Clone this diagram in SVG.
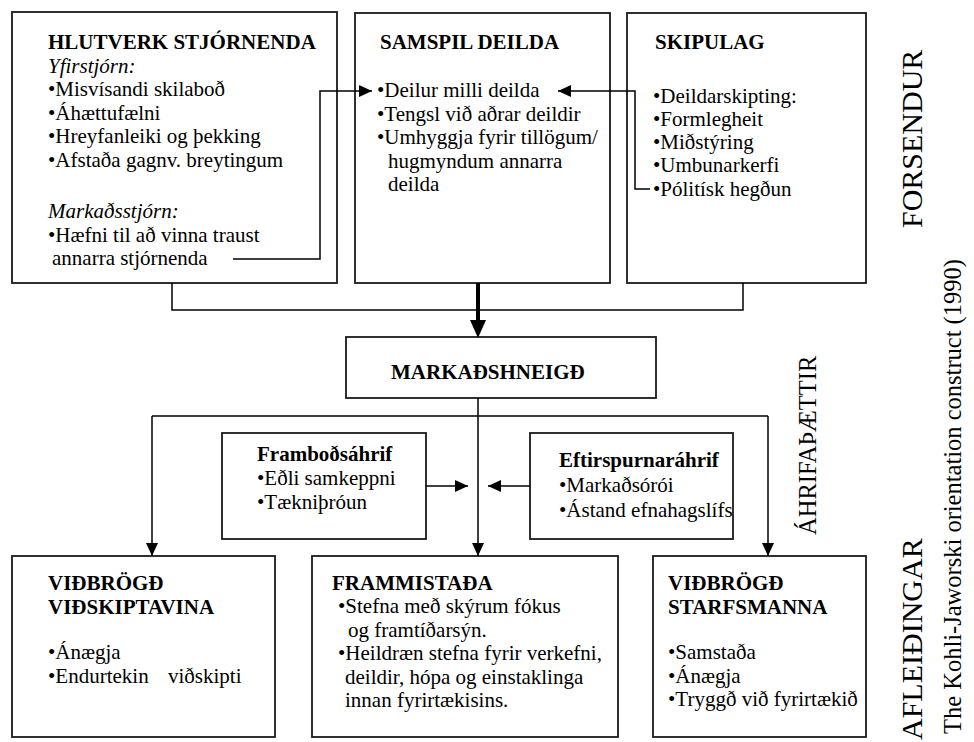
<svg xmlns="http://www.w3.org/2000/svg" width="974" height="742" viewBox="0 0 974 742">
<defs>
<style>
.box{fill:#fff;stroke:#1a1a1a;stroke-width:1.8}
.t{font-family:'Liberation Serif','Times New Roman',serif;font-size:21px;fill:#000}
.b{font-weight:bold}
.i{font-style:italic}
.c{fill:none;stroke:#000;stroke-width:1.5}
.thick{fill:none;stroke:#000;stroke-width:4}
.big{font-size:30px}
.mid{font-size:24.5px}
</style>
<marker id="ah" markerUnits="userSpaceOnUse" viewBox="0 0 13 12" refX="13" refY="6" markerWidth="13" markerHeight="12" orient="auto"><path d="M0,0 L13,6 L0,12 z" fill="#000"/></marker>
<marker id="ahb" markerUnits="userSpaceOnUse" viewBox="0 0 18 16" refX="0" refY="8" markerWidth="18" markerHeight="16" orient="auto"><path d="M0,0 L18,8 L0,16 z" fill="#000"/></marker>
</defs>
<rect width="974" height="742" fill="#fff"/>

<g id="hlutverk">
<rect class="box" x="12" y="12" width="325" height="271"/>
<text class="t b" x="48" y="49">HLUTVERK STJÓRNENDA</text>
<text class="t i" x="48" y="72.5">Yfirstjórn:</text>
<text class="t" x="48" y="96">•Misvísandi skilaboð</text>
<text class="t" x="48" y="119.5">•Áhættufælni</text>
<text class="t" x="48" y="143">•Hreyfanleiki og þekking</text>
<text class="t" x="48" y="166.5">•Afstaða gagnv. breytingum</text>
<text class="t i" x="48" y="218">Markaðsstjórn:</text>
<text class="t" x="48" y="242">•Hæfni til að vinna traust</text>
<text class="t" x="52" y="265">annarra stjórnenda</text>
</g>

<g id="samspil">
<rect class="box" x="355" y="13" width="255" height="270"/>
<text class="t b" x="380" y="49">SAMSPIL DEILDA</text>
<text class="t" x="377" y="97">•Deilur milli deilda</text>
<text class="t" x="377" y="120.5">•Tengsl við aðrar deildir</text>
<text class="t" x="377" y="144">•Umhyggja fyrir tillögum/</text>
<text class="t" x="388" y="167.5">hugmyndum annarra</text>
<text class="t" x="388" y="191">deilda</text>
</g>

<g id="skipulag">
<rect class="box" x="627" y="13" width="239" height="270"/>
<text class="t b" x="655" y="49">SKIPULAG</text>
<text class="t" x="653" y="102.5">•Deildarskipting:</text>
<text class="t" x="653" y="125.5">•Formlegheit</text>
<text class="t" x="653" y="149">•Miðstýring</text>
<text class="t" x="653" y="172">•Umbunarkerfi</text>
<text class="t" x="653" y="195.5">•Pólitísk hegðun</text>
</g>

<g id="markadshneigd">
<rect class="box" x="346" y="337" width="310" height="61"/>
<text class="t b" x="391" y="379">MARKAÐSHNEIGÐ</text>
</g>

<g id="frambodsahrif">
<rect class="box" x="222" y="433" width="204" height="106"/>
<text class="t b" x="257" y="461">Framboðsáhrif</text>
<text class="t" x="257" y="485">•Eðli samkeppni</text>
<text class="t" x="257" y="509">•Tækniþróun</text>
</g>

<g id="eftirspurnarahrif">
<rect class="box" x="530" y="433" width="203" height="106"/>
<text class="t b" x="559" y="467">Eftirspurnaráhrif</text>
<text class="t" x="559" y="492">•Markaðsórói</text>
<text class="t" x="559" y="517">•Ástand efnahagslífs</text>
</g>

<g id="vidskiptavina">
<rect class="box" x="12" y="556" width="263" height="181"/>
<text class="t b" x="48" y="590">VIÐBRÖGÐ</text>
<text class="t b" x="48" y="613.5">VIÐSKIPTAVINA</text>
<text class="t" x="48" y="659">•Ánægja</text>
<text class="t" x="48" y="682.5">•Endurtekin</text>
<text class="t" x="168" y="682.5">viðskipti</text>
</g>

<g id="frammistada">
<rect class="box" x="312" y="556" width="306" height="181"/>
<text class="t b" x="332" y="590">FRAMMISTAÐA</text>
<text class="t" x="338" y="613">•Stefna með skýrum fókus</text>
<text class="t" x="348" y="636.5">og framtíðarsýn.</text>
<text class="t" x="338" y="660">•Heildræn stefna fyrir verkefni,</text>
<text class="t" x="345" y="683.5">deildir, hópa og einstaklinga</text>
<text class="t" x="345" y="707">innan fyrirtækisins.</text>
</g>

<g id="starfsmanna">
<rect class="box" x="653" y="556" width="213" height="181"/>
<text class="t b" x="668" y="590">VIÐBRÖGÐ</text>
<text class="t b" x="668" y="613.5">STARFSMANNA</text>
<text class="t" x="668" y="659">•Samstaða</text>
<text class="t" x="668" y="682.5">•Ánægja</text>
<text class="t" x="668" y="706">•Tryggð við fyrirtækið</text>
</g>

<g id="labels">
<text class="t big" transform="translate(922,228) rotate(-90)">FORSENDUR</text>
<text class="t big" transform="translate(922,740) rotate(-90)">AFLEIÐINGAR</text>
<text class="t mid" transform="translate(816,535) rotate(-90)">ÁHRIFAÞÆTTIR</text>
<text class="t mid" transform="translate(961,734) rotate(-90)">The Kohli-Jaworski orientation construct (1990)</text>
</g>

<g id="connectors">
<path class="c" d="M172,283 V310 H743 V283"/>
<path class="thick" d="M478,283 V320" marker-end="url(#ahb)"/>
<path class="c" d="M233,259 H320 V91 H372" marker-end="url(#ah)"/>
<path class="c" d="M650,189 H635 V91 H558" marker-end="url(#ah)"/>
<path class="c" d="M152,416 H768"/>
<path class="c" d="M152,416 V556" marker-end="url(#ah)"/>
<path class="c" d="M768,416 V556" marker-end="url(#ah)"/>
<path class="c" d="M478,398 V556" marker-end="url(#ah)"/>
<path class="c" d="M426,486 H468" marker-end="url(#ah)"/>
<path class="c" d="M530,486 H488" marker-end="url(#ah)"/>
</g>
</svg>
